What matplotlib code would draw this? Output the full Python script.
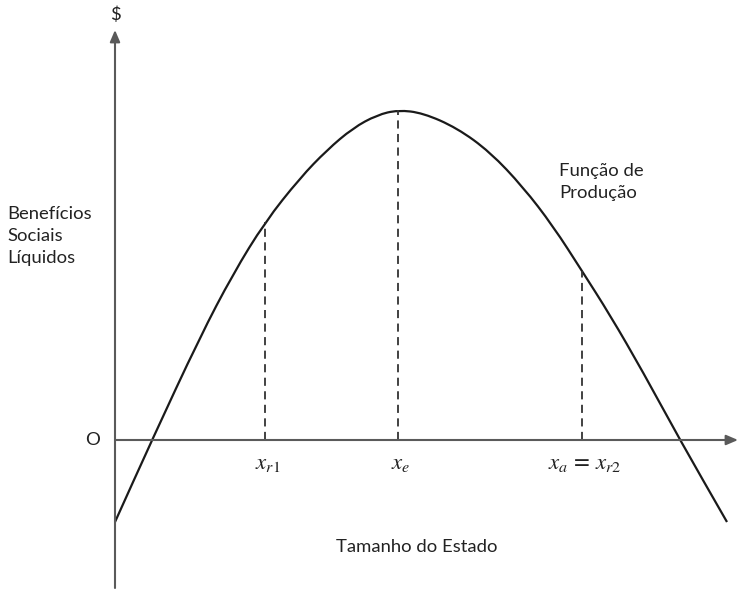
import matplotlib
matplotlib.use('Agg')
import matplotlib.pyplot as plt
from matplotlib.path import Path
from matplotlib.patches import PathPatch

plt.rcParams['font.family'] = ['Lato', 'DejaVu Sans']
plt.rcParams['mathtext.fontset'] = 'stix'

# curve (size of the state vs net social benefit)
curve_x = [0, 3.7, 8.5, 11.8, 15.0, 18.5, 21.2, 23.8, 26.2, 28.3,
           30.8, 34.2, 37.5, 40.8, 43.8, 46.7, 49.5, 52.8, 56.5, 61.2]
curve_y = [-8.2, 0, 10.3, 16.6, 21.8, 26.2, 29.0, 31.2, 32.5, 33.0,
           32.7, 31.2, 28.8, 25.3, 21.4, 16.9, 12.5, 6.8, 0, -8.2]

# marked points on the horizontal axis
mark_x = [15.0, 28.3, 46.7]
mark_y = [21.8, 33.0, 16.9]
mark_labels = [r'$x_{r1}$', r'$x_e$', r'$x_a\,=\,x_{r2}$']

fig = plt.figure(figsize=(7.38, 5.89), dpi=100)
ax = fig.add_axes([0, 0, 1, 1])
ax.set_xlim(-11.5, 62.3)
ax.set_ylim(-14.9, 44)
ax.axis('off')

axis_col = '#5a5a5a'
# axes with arrow heads
ax.annotate('', xy=(0, 41), xytext=(0, -14.8),
            arrowprops=dict(arrowstyle='-|>,head_length=0.7,head_width=0.3',
                            color=axis_col, lw=1.5, shrinkA=0, shrinkB=0))
ax.annotate('', xy=(62.3, 0), xytext=(0, 0),
            arrowprops=dict(arrowstyle='-|>,head_length=0.7,head_width=0.3',
                            color=axis_col, lw=1.5, shrinkA=0, shrinkB=0))

# smooth path through the read points (quadratic bezier between midpoints)
pts = list(zip(curve_x, curve_y))
verts = [pts[0]]
codes = [Path.MOVETO]
mid = lambda a, b: ((a[0] + b[0]) / 2, (a[1] + b[1]) / 2)
verts.append(mid(pts[0], pts[1]))
codes.append(Path.LINETO)
for i in range(1, len(pts) - 1):
    verts += [pts[i], mid(pts[i], pts[i + 1])]
    codes += [Path.CURVE3, Path.CURVE3]
verts.append(pts[-1])
codes.append(Path.LINETO)
ax.add_patch(PathPatch(Path(verts, codes), facecolor='none', edgecolor='#1a1a1a',
                       lw=1.6, joinstyle='round'))

for mx, my, lab in zip(mark_x, mark_y, mark_labels):
    ax.plot([mx, mx], [0, my], color='#333333', lw=1.3, linestyle=(0, (4.5, 3)))
    ax.text(mx + 0.3, -2.4, lab, ha='center', va='center', fontsize=16.5, color='#222222')

txt_col = '#222222'
fs = 13.3
ax.text(0, 42.5, '$', ha='center', va='center', fontsize=fs, color=txt_col)
ax.text(-10.8, 20.4, 'Benefícios\nSociais\nLíquidos', ha='left', va='center',
        fontsize=fs, color=txt_col, linespacing=1.45)
ax.text(-2.2, 0, 'O', ha='center', va='center', fontsize=fs, color=txt_col)
ax.text(44.4, 25.8, 'Função de\nProdução', ha='left', va='center',
        fontsize=fs, color=txt_col, linespacing=1.45)
ax.text(30.2, -10.7, 'Tamanho do Estado', ha='center', va='center',
        fontsize=fs, color=txt_col)

fig.savefig('out.png', dpi=100)
